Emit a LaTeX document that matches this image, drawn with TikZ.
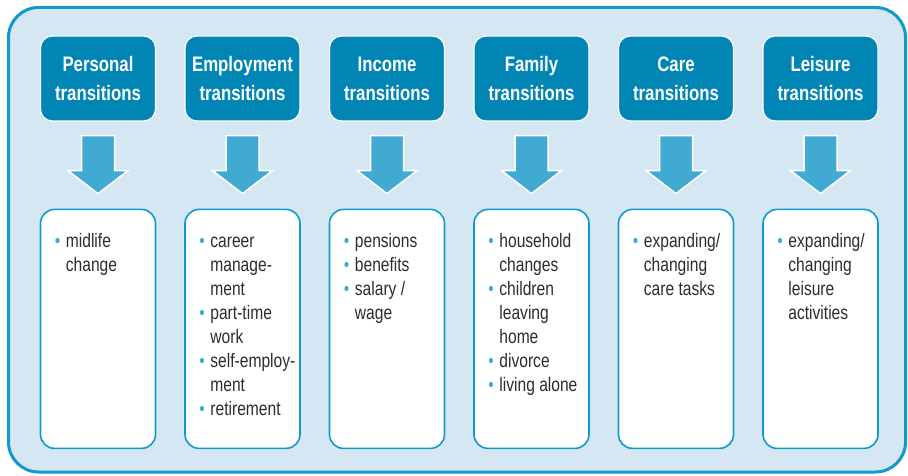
\documentclass[tikz,border=0pt]{standalone}
\usepackage{fontspec}
\setmainfont{Liberation Sans}[FakeStretch=0.8]
\usetikzlibrary{positioning,calc}

\definecolor{panelblue}{RGB}{213,231,243}
\definecolor{rimblue}{RGB}{17,153,204}
\definecolor{headblue}{RGB}{0,133,181}
\definecolor{arrowblue}{RGB}{64,170,210}
\definecolor{textgray}{RGB}{45,45,45}

\newcommand{\bul}{\leavevmode\llap{\textcolor{arrowblue}{\textbullet}\hspace{5.5pt}}}

\tikzset{
  hdr/.style={draw=white, line width=1.2pt, fill=headblue, rounded corners=12pt,
    minimum width=115pt, minimum height=85pt, text=white,
    font=\fontsize{21}{29}\selectfont\bfseries, align=center},
  listbox/.style={draw=rimblue, line width=1.6pt, fill=white, rounded corners=14pt,
    minimum width=115pt, minimum height=239pt},
  items/.style={anchor=north west, inner sep=0pt, text=textgray,
    font=\fontsize{19.5}{24}\selectfont, align=left},
  bigarrow/.style={fill=arrowblue, draw=white, line width=1.5pt, line join=miter}
}

\begin{document}
\begin{tikzpicture}[x=1pt, y=1pt]
	\useasboundingbox (0,0) rectangle (908,475);
	%panel
	\draw[draw=rimblue, line width=3pt, fill=panelblue, rounded corners=30pt] (8.5,3) rectangle (905.5,467.5);
	
	%headers
	\node[hdr] (h1) at (98,396.5) {Personal\\transitions};
	\node[hdr, right=28.3pt of h1] (h2) {Employment\\transitions};
	\node[hdr, right=28.3pt of h2] (h3) {Income\\transitions};
	\node[hdr, right=28.3pt of h3] (h4) {Family\\transitions};
	\node[hdr, right=28.3pt of h4] (h5) {Care\\transitions};
	\node[hdr, right=28.3pt of h5] (h6) {Leisure\\transitions};
	
	%lists
	\node[listbox, below=87pt of h1] (l1) {};
	\node[listbox, below=87pt of h2] (l2) {};
	\node[listbox, below=87pt of h3] (l3) {};
	\node[listbox, below=87pt of h4] (l4) {};
	\node[listbox, below=87pt of h5] (l5) {};
	\node[listbox, below=87pt of h6] (l6) {};
	
	\node[items] (t1) at ($(l1.north west)+(26,-22.2)$) {\bul\strut midlife\\change};
	\node[items] (t2) at ($(l2.north west)+(26,-22.2)$) {\bul\strut career\\manage-\\ment\\\bul part-time\\work\\\bul self-employ-\\ment\\\bul retirement};
	\node[items] (t3) at ($(l3.north west)+(26,-22.2)$) {\bul\strut pensions\\\bul benefits\\\bul salary /\\wage};
	\node[items] (t4) at ($(l4.north west)+(26,-22.2)$) {\bul\strut household\\changes\\\bul children\\leaving\\home\\\bul divorce\\\bul living alone};
	\node[items] (t5) at ($(l5.north west)+(26,-22.2)$) {\bul\strut expanding/\\changing\\care tasks};
	\node[items] (t6) at ($(l6.north west)+(26,-22.2)$) {\bul\strut expanding/\\changing\\leisure\\activities};
	
	%arrows
	\foreach \i in {1,...,6}{
		\draw[bigarrow] ($(h\i.south)+(-16.5,-14)$) -- ++(33,0) -- ++(0,-35) -- ++(13.5,0)
			-- ($(h\i.south)+(0,-72)$) -- ($(h\i.south)+(-30,-49)$) -- ++(13.5,0) -- cycle;
	}
\end{tikzpicture}
\end{document}
